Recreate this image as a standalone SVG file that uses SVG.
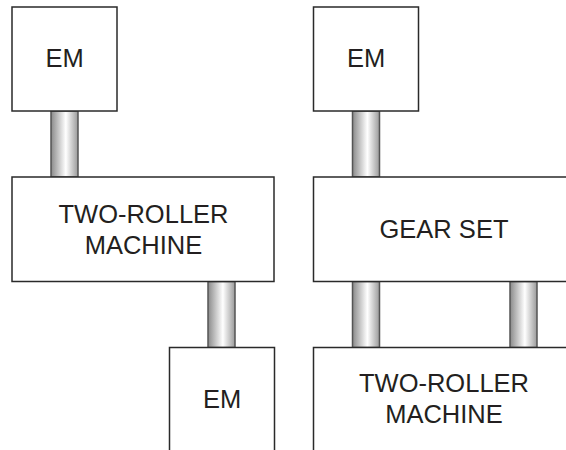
<svg xmlns="http://www.w3.org/2000/svg" width="566" height="450" viewBox="0 0 566 450">
<defs>
<linearGradient id="shaftGrad" x1="0" y1="0" x2="1" y2="0">
<stop offset="0" stop-color="#8a8a8a"/>
<stop offset="0.55" stop-color="#ffffff"/>
<stop offset="1" stop-color="#9a9a9a"/>
</linearGradient>
<style>
.box{fill:#fff;stroke:#2a2a2a;stroke-width:1.5}
.shaft{fill:url(#shaftGrad);stroke:#555;stroke-width:1.5}
.lbl{font-family:"Liberation Sans",Arial,sans-serif;font-size:25.5px;fill:#231f20;text-anchor:middle}
</style>
</defs>
<rect width="566" height="450" fill="#fff"/>
<g id="connectors">
<rect class="shaft" x="51" y="111" width="27" height="66"/>
<rect class="shaft" x="208" y="281.5" width="27" height="66"/>
<rect class="shaft" x="352.5" y="111" width="27" height="66"/>
<rect class="shaft" x="352.5" y="281.5" width="27" height="66"/>
<rect class="shaft" x="510" y="281.5" width="27" height="66"/>
</g>
<g id="em-left-top">
<rect class="box" x="12" y="7" width="105" height="104"/>
<text class="lbl" x="64.5" y="67">EM</text>
</g>
<g id="two-roller-left">
<rect class="box" x="12" y="177" width="262" height="104.5"/>
<text class="lbl" x="143.5" y="223">TWO-ROLLER</text>
<text class="lbl" x="143.5" y="254">MACHINE</text>
</g>
<g id="em-left-bottom">
<path class="box" d="M169.5,452 V347.5 H274.5 V452"/>
<text class="lbl" x="222" y="408">EM</text>
</g>
<g id="em-right-top">
<rect class="box" x="313.5" y="7" width="105" height="104"/>
<text class="lbl" x="366" y="67">EM</text>
</g>
<g id="gear-set">
<path class="box" d="M568,177 H313.5 V281.5 H568"/>
<text class="lbl" x="444" y="237.5">GEAR SET</text>
</g>
<g id="two-roller-right">
<path class="box" d="M313.5,452 V347.5 H568"/>
<text class="lbl" x="444" y="391.5">TWO-ROLLER</text>
<text class="lbl" x="444" y="423">MACHINE</text>
</g>
</svg>
